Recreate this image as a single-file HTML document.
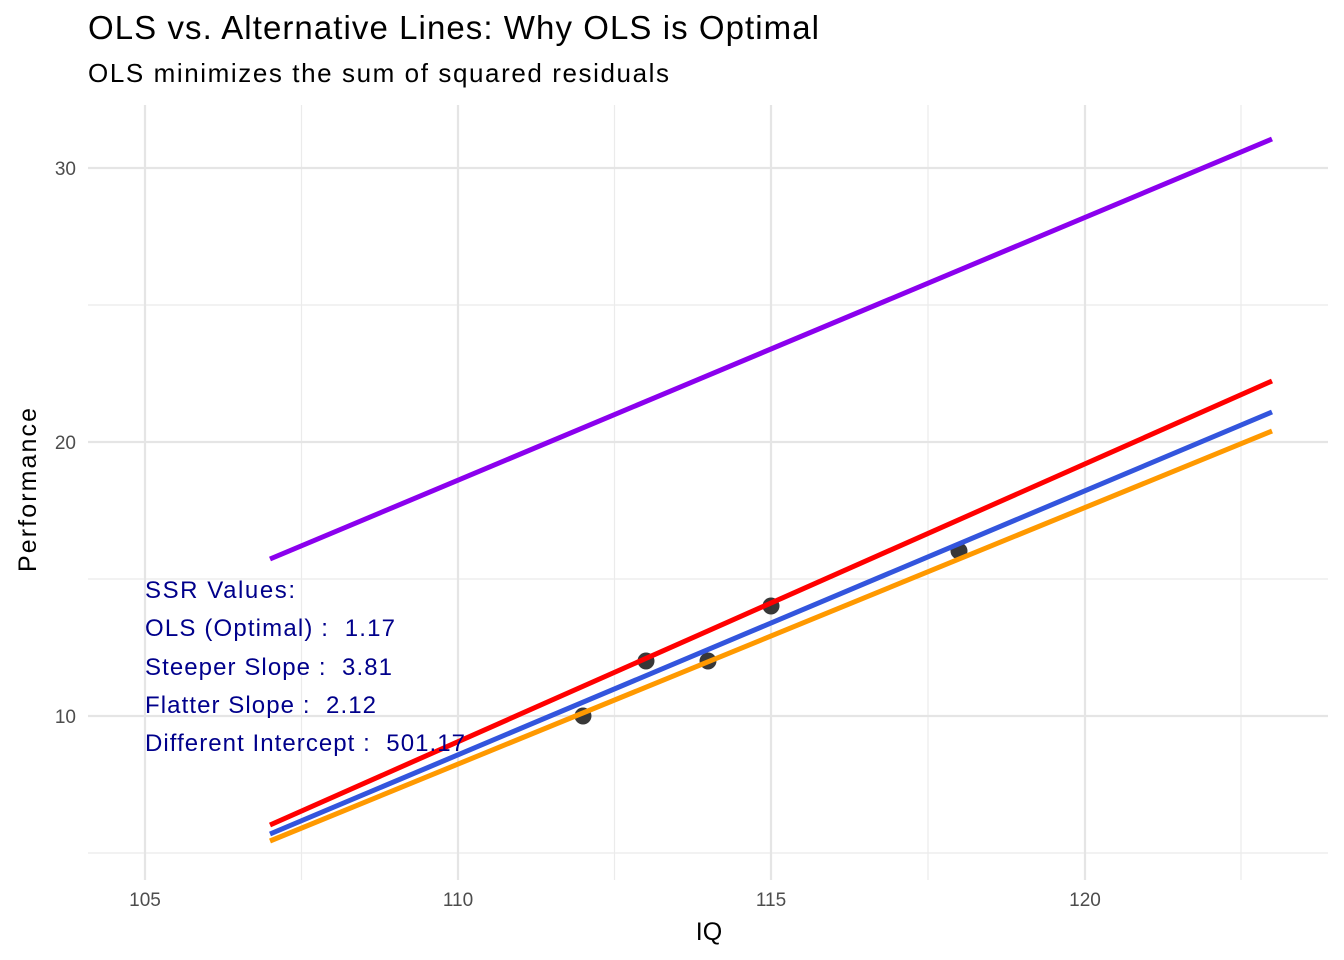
<!DOCTYPE html>
<html><head><meta charset="utf-8"><style>
body{margin:0;background:#fff}
svg{display:block;font-family:"Liberation Sans",Arial,sans-serif}
text{white-space:pre}
</style></head><body>
<svg width="1344" height="960" viewBox="0 0 1344 960">
<rect width="1344" height="960" fill="#fff"/>
<g stroke="#ebebeb" stroke-width="1.2">
<line x1="88" x2="1328" y1="305" y2="305"/><line x1="88" x2="1328" y1="579" y2="579"/><line x1="88" x2="1328" y1="853" y2="853"/>
<line y1="105" y2="880" x1="301.5" x2="301.5"/><line y1="105" y2="880" x1="614.5" x2="614.5"/><line y1="105" y2="880" x1="928" x2="928"/><line y1="105" y2="880" x1="1241" x2="1241"/>
</g>
<g stroke="#e5e5e5" stroke-width="2.2">
<line x1="88" x2="1328" y1="168" y2="168"/><line x1="88" x2="1328" y1="442" y2="442"/><line x1="88" x2="1328" y1="716" y2="716"/>
<line y1="105" y2="880" x1="145" x2="145"/><line y1="105" y2="880" x1="458" x2="458"/><line y1="105" y2="880" x1="771" x2="771"/><line y1="105" y2="880" x1="1085" x2="1085"/>
</g>
<g fill="#222" fill-opacity="0.9">
<circle cx="583" cy="716" r="8.5"/><circle cx="646" cy="661" r="8.5"/><circle cx="708" cy="661" r="8.5"/><circle cx="771" cy="606" r="8.5"/><circle cx="959" cy="551" r="8.5"/>
</g>
<g stroke-width="5" fill="none">
<line x1="270" y1="559" x2="1272" y2="139" stroke="#8b00ee"/>
<line x1="270" y1="825" x2="1272" y2="381" stroke="#ff0000"/>
<line x1="270" y1="841" x2="1272" y2="431" stroke="#ff9900"/>
<line x1="270" y1="834" x2="1272" y2="412" stroke="#3355dd"/>
</g>
<g fill="#00008b" font-size="24" xml:space="preserve">
<text x="145" y="598" textLength="150">SSR Values:</text>
<text x="145" y="636" textLength="250">OLS (Optimal) :  1.17</text>
<text x="145" y="675" textLength="247">Steeper Slope :  3.81</text>
<text x="145" y="713" textLength="231">Flatter Slope :  2.12</text>
<text x="145" y="751" textLength="320">Different Intercept :  501.17</text>
</g>
<g fill="#4d4d4d" font-size="19">
<text x="76" y="175" text-anchor="end">30</text><text x="76" y="449" text-anchor="end">20</text><text x="76" y="723" text-anchor="end">10</text>
<text x="145" y="906" text-anchor="middle">105</text><text x="458" y="906" text-anchor="middle">110</text><text x="771" y="906" text-anchor="middle">115</text><text x="1085" y="906" text-anchor="middle">120</text>
</g>
<text x="709" y="940" text-anchor="middle" font-size="25" fill="#000">IQ</text>
<text transform="translate(36,490) rotate(-90)" text-anchor="middle" font-size="25" fill="#000" textLength="164">Performance</text>
<text x="88" y="39" font-size="33" fill="#000" textLength="731">OLS vs. Alternative Lines: Why OLS is Optimal</text>
<text x="88" y="82" font-size="26" fill="#000" textLength="581">OLS minimizes the sum of squared residuals</text>
</svg>
</body></html>
